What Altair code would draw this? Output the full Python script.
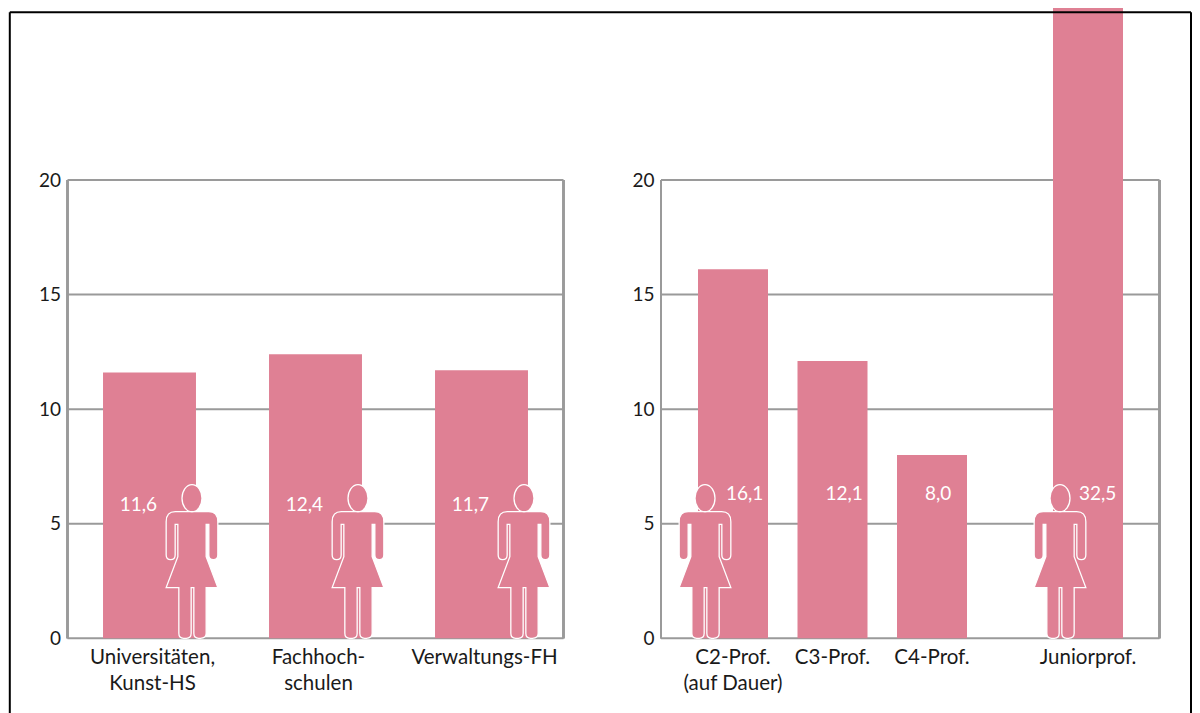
import re
import altair as alt
import pandas as pd

left_cats = ["Universitäten,\nKunst-HS", "Fachhoch-\nschulen", "Verwaltungs-FH"]
left_vals = [11.6, 12.4, 11.7]
left_text = ["11,6", "12,4", "11,7"]
mid_cats = ["C2-Prof.\n(auf Dauer)", "C3-Prof.", "C4-Prof."]
mid_vals = [16.1, 12.1, 8.0]
mid_text = ["16,1", "12,1", "8,0"]
jun_cats = ["Juniorprof."]
jun_vals = [32.5]
jun_text = ["32,5"]
y_ticks = [0, 5, 10, 15, 20]

PINK = "#df8094"
GREY = "#9a9a9a"
FONT = "Lato"
TXT = "#1a1a1a"

# woman pictogram: y from -2 to 0 so that the feet sit on the data value
raw = ("M-50,-380 L50,-380 Q77.5,-380 77.5,-350 L77.5,-250 Q77.5,-236 64,-236 Q50.5,-236 50.5,-250 "
       "L50.5,-342 L42.5,-342 L42.5,-245 L77.5,-152 L42.5,-152 L42.5,-15 Q42.5,0 25,0 L20,0 Q5.5,0 5.5,-15 "
       "L5.5,-152 L-2.5,-152 L-2.5,-15 Q-2.5,0 -17,0 L-25,0 Q-39.5,0 -39.5,-15 L-39.5,-152 L-77.5,-152 "
       "L-42.5,-245 L-42.5,-342 L-50.5,-342 L-50.5,-250 Q-50.5,-236 -64,-236 Q-77.5,-236 -77.5,-250 "
       "L-77.5,-350 Q-77.5,-380 -50,-380 Z "
       "M0,-461 C16.5,-461 30,-442.6 30,-420 C30,-397.4 16.5,-379 0,-379 "
       "C-16.5,-379 -30,-397.4 -30,-420 C-30,-442.6 -16.5,-461 0,-461 Z")
WOMAN = re.sub(r"-?\d+\.?\d*", lambda m: f"{float(m.group()) / 231:.4f}", raw)

yscale = alt.Scale(domain=[0, 20], range=[630.3, 172])


def group(cats, vals, text, icon_cats, scale, icon_dx, label_dx, label_align, label_y, label_off):
    df = pd.DataFrame({"cat": cats, "val": vals, "txt": text})
    x_axis = alt.Axis(title=None, orient="bottom", ticks=False, domain=False, grid=False, labelAngle=0,
                      labelFont=FONT, labelFontSize=20.5, labelColor=TXT, labelPadding=9,
                      labelLineHeight=26, labelLimit=0, labelOverlap=False, labelOffset=label_off,
                      labelBaseline="top", labelExpr="split(datum.label, '\\n')")
    x = alt.X("cat:N", sort=cats, scale=scale, axis=x_axis)
    x_plain = alt.X("cat:N", sort=cats, scale=scale, axis=None)
    bars = alt.Chart(df).mark_bar(color=PINK, clip=False).encode(
        x=x, y=alt.Y("val:Q", scale=yscale, axis=None))
    labels = alt.Chart(df).mark_text(color="white", font=FONT, fontSize=19, align=label_align,
                                     baseline="middle", dx=label_dx).encode(
        x=x_plain, text="txt:N", y=alt.value(label_y))
    icons = alt.Chart(df[df["cat"].isin(icon_cats)]).mark_point(
        shape=WOMAN, size=23716, filled=True, fill=PINK, stroke="white",
        strokeWidth=1.3, opacity=1, fillOpacity=1, xOffset=icon_dx).encode(
        x=x_plain, y=alt.YDatum(0, scale=yscale, axis=None))
    return [bars, labels, icons]


def frame_panel(x0, x1):
    df = pd.DataFrame({"t": y_ticks})
    y_axis = alt.Axis(title=None, orient="left", ticks=False, domain=False, grid=False, values=y_ticks,
                      labelFont=FONT, labelFontSize=19, labelColor=TXT, labelPadding=7,
                      offset=-x0, format="d")
    grid = alt.Chart(df).mark_rule(color=GREY, strokeWidth=2).encode(
        y=alt.Y("t:Q", scale=yscale, axis=y_axis), x=alt.value(x0), x2=alt.value(x1))
    sides = [alt.Chart(df).mark_rule(color=GREY, strokeWidth=2).encode(
        x=alt.value(v), y=alt.YDatum(0, scale=yscale, axis=None), y2=alt.Y2Datum(20))
        for v in (x0, x1)]
    return [grid] + sides


def border():
    base = alt.Chart(pd.DataFrame({"a": [0]}))
    style = dict(color="black", strokeWidth=2)
    return [
        base.mark_rule(**style).encode(x=alt.value(1.8), y=alt.value(4.2), y2=alt.value(705)),
        base.mark_rule(**style).encode(x=alt.value(1183), y=alt.value(4.2), y2=alt.value(705)),
        base.mark_rule(**style).encode(x=alt.value(1.8), x2=alt.value(1183), y=alt.value(4.2)),
    ]


left_scale = alt.Scale(domain=left_cats, range=[58.5, 556.5], paddingInner=0.44, paddingOuter=0.22)
mid_scale = alt.Scale(domain=mid_cats, range=[675.25, 973.75], paddingInner=0.2965, paddingOuter=0.1482)
jun_scale = alt.Scale(domain=jun_cats, range=[1045, 1115], paddingInner=0, paddingOuter=0)

layers = (
    frame_panel(59.5, 555.5)
    + frame_panel(653, 1151.5)
    + group(left_cats, left_vals, left_text, left_cats, left_scale, 42.5, 7.5, "right", 497, 3)
    + group(mid_cats, mid_vals, mid_text, mid_cats[:1], mid_scale, -28, -7, "left", 486, 0)
    + group(jun_cats, jun_vals, jun_text, jun_cats, jun_scale, -28, -9, "left", 486, 0)
    + border()
)

chart = (
    alt.layer(*layers)
    .resolve_scale(x="independent")
    .resolve_axis(x="independent", y="independent")
    .properties(width=1184, height=630, padding={"left": 0, "top": 0, "right": 0, "bottom": 75},
                autosize=alt.AutoSizeParams(type="none"))
    .configure_view(stroke=None)
)

chart.save("out.html", embed_options={"renderer": "svg", "actions": False})
